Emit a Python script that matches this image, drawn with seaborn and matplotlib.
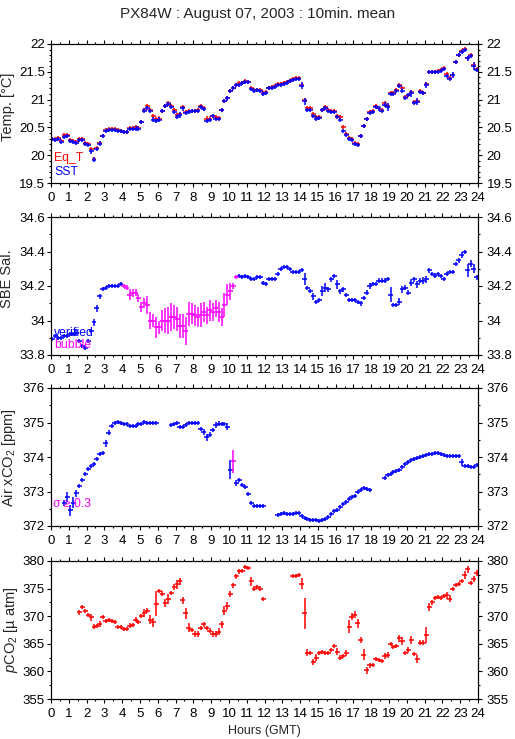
import numpy as np
import matplotlib
matplotlib.use("Agg")
import matplotlib.pyplot as plt
import seaborn as sns
from matplotlib.ticker import MultipleLocator, FuncFormatter

nan = np.nan

# ---------------- data (10-min means, 144 slots, 00:00-24:00 GMT) ----------------
SLOT_MINUTES = 10

sst = [
    20.29, 20.28, 20.30, 20.24, 20.33, 20.34, 20.25, 20.24, 20.22, 20.27, 20.27, 20.21,
    20.18, 20.07, 19.92, 20.12, 20.21, 20.34, 20.44, 20.45, 20.46, 20.45, 20.44, 20.43,
    20.41, 20.41, 20.47, 20.47, 20.48, 20.48, 20.59, 20.80, 20.85, 20.79, 20.64, 20.62,
    20.64, 20.79, 20.88, 20.92, 20.86, 20.78, 20.69, 20.72, 20.84, 20.76, 20.77, 20.79,
    20.79, 20.80, 20.86, 20.83, 20.62, 20.64, 20.70, 20.65, 20.65, 20.81, 20.97, 21.02,
    21.15, 21.20, 21.26, 21.27, 21.29, 21.31, 21.31, 21.19, 21.16, 21.17, 21.16, 21.10,
    21.12, 21.20, 21.21, 21.23, 21.27, 21.27, 21.28, 21.30, 21.33, 21.36, 21.37, 21.37,
    21.25, 20.97, 20.82, 20.82, 20.71, 20.66, 20.67, 20.81, 20.85, 20.80, 20.77, 20.78,
    20.69, 20.63, 20.44, 20.36, 20.30, 20.27, 20.21, 20.19, 20.35, 20.53, 20.65, 20.76,
    20.78, 20.87, 20.84, 20.80, 20.91, 20.87, 21.10, 21.10, 21.16, 21.25, 21.16, 21.03,
    21.08, 21.11, 20.94, 20.96, 21.14, 21.11, 21.26, 21.49, 21.49, 21.49, 21.50, 21.52,
    21.55, 21.42, 21.37, 21.44, 21.67, 21.81, 21.86, 21.90, 21.74, 21.79, 21.60, 21.54,
]
sst_sd = [
    .01, .01, .01, .03, .04, .02, .01, .01, .01, .02, .01, .01,
    .02, .04, .04, .01, .04, .02, .01, .01, .01, .01, .01, .01,
    .01, .01, .01, .02, .02, .02, .03, .04, .02, .02, .04, .02,
    .05, .01, .02, .01, .02, .02, .04, .05, .02, .02, .02, .01,
    .02, .01, .02, .03, .02, .02, .01, .03, .03, .04, .03, .03,
    .02, .01, .01, .01, .01, .01, .02, .01, .01, .01, .01, .01,
    .02, .01, .01, .01, .01, .01, .01, .01, .01, .01, .01, .01,
    .06, .06, .02, .01, .04, .02, .02, .04, .01, .02, .02, .01,
    .02, .02, .03, .02, .01, .01, .02, .02, .03, .03, .03, .02,
    .03, .01, .02, .02, .05, .07, .01, .01, .01, .02, .04, .04,
    .03, .07, .03, .06, .02, .03, .06, .01, .01, .01, .01, .01,
    .01, .04, .01, .05, .02, .02, .02, .03, .04, .03, .07, .02,
]
eq_t = [
    20.30, 20.29, 20.31, 20.26, 20.36, 20.36, 20.27, 20.25, 20.23, 20.29, 20.29, 20.22,
    20.20, 20.12, 19.93, 20.13, 20.22, 20.35, 20.45, 20.47, 20.47, 20.47, 20.46, 20.44,
    20.42, 20.42, 20.49, 20.49, 20.51, 20.49, 20.60, 20.81, 20.89, 20.81, 20.70, 20.65,
    20.66, 20.80, 20.89, 20.93, 20.88, 20.81, 20.72, 20.74, 20.86, 20.78, 20.79, 20.80,
    20.80, 20.81, 20.88, 20.84, 20.66, 20.66, 20.71, 20.68, 20.67, 20.82, 20.98, 21.03,
    21.16, 21.21, 21.27, 21.29, 21.30, 21.34, 21.32, 21.20, 21.17, 21.18, 21.17, 21.11,
    21.13, 21.21, 21.22, 21.24, 21.28, 21.28, 21.29, 21.31, 21.34, 21.37, 21.38, 21.38,
    21.27, 21.00, 20.84, 20.84, 20.74, 20.68, 20.69, 20.82, 20.86, 20.82, 20.79, 20.79,
    20.71, 20.68, 20.50, 20.38, 20.31, 20.29, 20.22, 20.20, 20.35, 20.53, 20.65, 20.77,
    20.79, 20.88, 20.85, 20.82, 20.93, 20.89, 21.11, 21.11, 21.17, 21.27, 21.20, 21.05,
    21.09, 21.13, 20.95, 20.97, 21.15, 21.12, 21.28, 21.50, 21.50, 21.50, 21.51, 21.53,
    21.56, 21.46, 21.38, 21.45, 21.68, 21.80, 21.87, 21.91, 21.75, 21.80, 21.62, 21.55,
]
eq_t_sd = 0.008

salinity = [
    33.89, 33.91, 33.90, 33.90, 33.91, 33.91, 33.92, 33.92, 33.93, 33.88, 33.85, 33.84,
    33.88, 33.94, 33.99, 34.07, 34.14, 34.18, 34.19, 34.20, 34.20, 34.20, 34.20, 34.21,
    34.20, 34.19, 34.15, 34.16, 34.16, 34.13, 34.08, 34.10, 34.09, 34.00, 34.00, 33.96,
    33.96, 34.00, 34.00, 34.00, 34.02, 34.02, 34.01, 33.97, 33.97, 33.94, 34.04, 34.04,
    34.03, 34.02, 34.03, 34.05, 34.03, 34.06, 34.05, 34.07, 34.05, 34.02, 34.09, 34.15,
    34.17, 34.20, 34.25, 34.26, 34.25, 34.26, 34.25, 34.24, 34.24, 34.25, 34.25, 34.22,
    34.21, 34.24, 34.24, 34.24, 34.27, 34.30, 34.31, 34.31, 34.30, 34.28, 34.28, 34.28,
    34.29, 34.24, 34.19, 34.17, 34.14, 34.11, 34.12, 34.17, 34.19, 34.18, 34.24, 34.26,
    34.21, 34.17, 34.18, 34.15, 34.12, 34.12, 34.12, 34.11, 34.10, 34.13, 34.16, 34.20,
    34.21, 34.21, 34.23, 34.23, 34.23, 34.24, 34.15, 34.09, 34.09, 34.11, 34.18, 34.19,
    34.16, 34.22, 34.24, 34.21, 34.23, 34.23, 34.24, 34.29, 34.27, 34.26, 34.27, 34.26,
    34.24, 34.27, 34.28, 34.28, 34.33, 34.35, 34.38, 34.40, 34.29, 34.33, 34.30, 34.25,
]
salinity_sd = [
    .008, .008, .008, .008, .008, .008, .008, .010, .020, .010, .010, .010,
    .010, .010, .020, .020, .015, .010, .010, .010, .010, .010, .010, .010,
    .010, .015, .030, .025, .020, .025, .030, .030, .050, .050, .040, .060,
    .040, .060, .070, .080, .080, .070, .070, .070, .070, .080, .070, .060,
    .060, .060, .070, .060, .050, .060, .050, .050, .060, .050, .070, .060,
    .050, .020, .010, .010, .008, .008, .010, .008, .008, .008, .008, .010,
    .010, .008, .008, .008, .010, .010, .008, .008, .008, .008, .008, .008,
    .010, .035, .010, .010, .020, .008, .010, .030, .025, .015, .015, .010,
    .025, .015, .015, .010, .010, .008, .008, .010, .015, .010, .015, .015,
    .010, .010, .015, .015, .015, .010, .045, .008, .010, .020, .020, .015,
    .015, .020, .015, .020, .015, .020, .020, .015, .010, .008, .008, .010,
    .010, .010, .010, .010, .010, .015, .015, .010, .040, .020, .025, .015,
]
bubble_hours = (4.0, 10.5)   # period flagged "bubble"

air_xco2 = [
    nan, nan, nan, nan, 372.66, 372.85, 372.45, 372.68, 372.95, 373.16, 373.34, 373.51,
    373.65, 373.74, 373.80, 373.95, 374.09, 374.13, 374.40, 374.71, 374.91, 375.00, 375.01, 375.00,
    374.96, 374.96, 374.91, 374.89, 374.91, 374.95, 374.97, 375.01, 375.00, 375.00, 374.98, 374.98,
    nan, nan, nan, nan, 374.92, 374.96, 374.98, 374.88, 374.88, 374.92, 374.98, 374.98,
    375.00, 374.98, 374.82, 374.72, 374.57, 374.65, 374.78, 374.93, 374.97, 374.95, 374.95, 374.88,
    373.63, 373.88, 373.25, 373.33, 373.20, 373.12, 372.93, 372.68, 372.58, 372.58, 372.58, 372.58,
    nan, nan, nan, nan, 372.32, 372.36, 372.39, 372.36, 372.35, 372.36, 372.37, 372.37,
    372.30, 372.22, 372.20, 372.18, 372.17, 372.16, 372.15, 372.17, 372.21, 372.25, 372.34, 372.43,
    372.47, 372.55, 372.63, 372.70, 372.78, 372.84, 372.88, 372.98, 373.05, 373.10, 373.07, 373.05,
    nan, nan, nan, nan, 373.40, 373.47, 373.52, 373.57, 373.60, 373.63, 373.72, 373.80,
    373.85, 373.90, 373.93, 373.98, 374.00, 374.02, 374.06, 374.08, 374.10, 374.11, 374.12, 374.10,
    374.06, 374.04, 374.02, 374.03, 374.03, 374.03, 373.85, 373.74, 373.73, 373.72, 373.72, 373.77,
]
air_xco2_sd = [
    nan, nan, nan, nan, .08, .15, .15, .15, .10, .05, .05, .05,
    .04, .04, .04, .06, .04, .04, .10, .08, .05, .04, .04, .04,
    .04, .04, .04, .04, .04, .04, .03, .03, .03, .03, .03, .03,
    nan, nan, nan, nan, .04, .06, .04, .06, .05, .04, .04, .04,
    .04, .06, .06, .08, .10, .08, .06, .08, .06, .04, .04, .10,
    .27, .33, .08, .06, .04, .04, .06, .05, .03, .03, .03, .06,
    nan, nan, nan, nan, .03, .03, .03, .03, .03, .03, .03, .03,
    .04, .03, .03, .03, .03, .03, .03, .03, .03, .03, .04, .04,
    .04, .04, .04, .04, .04, .04, .03, .04, .03, .03, .03, .03,
    nan, nan, nan, nan, .05, .04, .03, .03, .03, .03, .03, .03,
    .03, .03, .03, .03, .03, .03, .03, .03, .03, .04, .03, .03,
    .03, .03, .03, .03, .03, .03, .10, .04, .03, .03, .03, .04,
]
sigma_limit = 0.3

pco2 = [
    nan, nan, nan, nan, nan, nan, nan, nan, nan, 370.7, 371.6, 370.9,
    370.2, 369.8, 368.1, 368.2, 368.6, 369.9, 369.2, 369.3, 369.1, 368.9, 368.1, 368.0,
    367.6, 367.6, 368.3, 368.4, 369.4, 369.0, 370.0, 370.6, 371.0, 369.4, 368.9, 372.3,
    374.6, 374.1, 372.4, 373.1, 374.2, 375.3, 375.8, 376.3, 372.9, 370.5, 367.9, 367.5,
    366.8, 366.8, 367.9, 368.5, 367.9, 367.4, 366.8, 366.8, 367.2, 368.5, 371.0, 371.8,
    374.0, 375.6, 377.2, 378.1, 378.2, 378.9, 378.7, 376.3, 375.0, 375.3, 375.0, 373.1,
    nan, nan, nan, nan, nan, nan, nan, nan, nan, 377.2, 377.3, 377.5,
    375.9, 370.5, 363.4, 363.3, 361.7, 362.5, 363.4, 363.6, 363.4, 363.3, 363.9, 364.6,
    363.6, 362.5, 362.8, 363.3, 368.1, 369.9, 370.3, 368.7, 365.7, 363.0, 360.2, 361.1,
    361.1, 362.3, 362.0, 361.9, 362.8, 363.0, 364.9, 364.5, 364.6, 366.0, 365.5, 363.4,
    363.9, 365.7, 363.1, 362.2, 365.2, 365.2, 366.6, 371.7, 372.5, 373.3, 373.5, 373.3,
    373.7, 373.8, 373.2, 374.9, 375.7, 375.9, 376.3, 377.4, 378.5, 376.0, 376.7, 377.8,
]
pco2_sd = [
    nan, nan, nan, nan, nan, nan, nan, nan, nan, .5, .3, .4,
    .3, .6, .5, .3, .5, .3, .3, .3, .3, .3, .3, .3,
    .3, .3, .5, .3, .4, .3, .4, .7, .4, .8, .8, 2.2,
    .4, .4, .7, .9, .4, .5, .8, .6, .6, 1.0, .8, .4,
    .6, .5, .4, .4, .4, .5, .6, .5, .6, .6, .8, .7,
    .6, .5, .5, .4, .4, .3, .3, .8, .4, .4, .5, .3,
    nan, nan, nan, nan, nan, nan, nan, nan, nan, .2, .2, .2,
    1.0, 2.8, .7, .4, .6, .6, .3, .3, .3, .3, .3, .4,
    .6, .5, .4, .6, 1.2, .6, .7, .8, .6, 1.0, .6, .4,
    .3, .3, .3, .3, .6, .6, .3, .3, .3, .6, .7, .3,
    .5, .8, .3, .7, .5, .5, 1.5, .7, .4, .3, .3, .3,
    .3, .6, .6, .3, .3, .3, .3, .7, .6, .4, .5, .5,
]

TITLE = "PX84W : August 07, 2003 : 10min. mean"
XLABEL = "Hours (GMT)"

# ---------------- style ----------------
BLUE, RED, MAGENTA = "#0000ff", "#ff0000", "#ff00ff"
sns.set_theme(style="ticks")
plt.rcParams.update({
    "font.family": ["Liberation Sans", "DejaVu Sans"],
    "mathtext.fontset": "custom",
    "mathtext.rm": "Liberation Sans",
    "mathtext.it": "Liberation Sans:italic",
    "axes.linewidth": 0.8,
    "axes.edgecolor": "black",
    "xtick.color": "black", "ytick.color": "black",
    "xtick.major.size": 3.2, "ytick.major.size": 3.2,
    "xtick.minor.size": 1.7, "ytick.minor.size": 1.7,
    "xtick.major.width": 0.8, "ytick.major.width": 0.8,
    "xtick.minor.width": 0.8, "ytick.minor.width": 0.8,
    "axes.facecolor": "white", "figure.facecolor": "white",
})
TICK_SIZE = 9.5

W, H = 515, 739
PANEL_H = 138
fig = plt.figure(figsize=(W / 100, H / 100), dpi=100)

hours = (np.arange(len(sst)) + 0.5) * SLOT_MINUTES / 60.0
HALF_ARM_H = 0.14          # horizontal arm of each cross (hours)
MIN_ARM_PX = 2.0           # smallest vertical arm drawn (pixels)
LW = 1.1
fmt = FuncFormatter(lambda v, p: f"{v:g}")


def make_panel(top, bottom, ylim, major, minor):
    ax = fig.add_axes([51 / W, 1 - bottom / H, 427 / W, (bottom - top) / H])
    ax.set_xlim(0, 24)
    ax.set_ylim(*ylim)
    ax.xaxis.set_major_locator(MultipleLocator(1))
    ax.xaxis.set_minor_locator(MultipleLocator(0.5))
    ax.yaxis.set_major_locator(MultipleLocator(major))
    ax.yaxis.set_minor_locator(MultipleLocator(minor))
    ax.yaxis.set_major_formatter(fmt)
    ax.tick_params(which="both", direction="out", top=True, right=False,
                   labeltop=False, labelright=False)
    ax.tick_params(axis="x", pad=3.5, labelsize=TICK_SIZE)
    ax.tick_params(axis="y", pad=1.2, labelsize=TICK_SIZE)
    ax2 = ax.twinx()
    ax2.set_ylim(*ylim)
    ax2.yaxis.set_major_locator(MultipleLocator(major))
    ax2.yaxis.set_minor_locator(MultipleLocator(minor))
    ax2.yaxis.set_major_formatter(fmt)
    ax2.tick_params(which="both", direction="out", pad=3, labelsize=TICK_SIZE)
    for a in (ax, ax2):
        for s in a.spines.values():
            s.set_visible(True)
            s.set_color("black")
        a.grid(False)
    return ax


def crosses(ax, x, y, sd, color):
    lo, hi = ax.get_ylim()
    min_arm = MIN_ARM_PX * (hi - lo) / PANEL_H
    yerr = np.maximum(np.asarray(sd, dtype=float), min_arm)
    ax.errorbar(x, y, xerr=HALF_ARM_H, yerr=yerr, fmt="none", ecolor=color,
                elinewidth=LW, capsize=0)


def side_label(text, xpx, ypx, size=10.5):
    fig.text(xpx / W, 1 - ypx / H, text, rotation=90, ha="center", va="center",
             fontsize=size)


LEG = 8.8

# Panel 1: temperatures
ax1 = make_panel(44, 183, (19.5, 22), 0.5, 0.1)
crosses(ax1, hours, np.array(eq_t), np.full(len(eq_t), eq_t_sd), RED)
crosses(ax1, hours, np.array(sst), np.array(sst_sd), BLUE)
ax1.text(0.007, 0.18, "Eq_T", color=RED, transform=ax1.transAxes, fontsize=LEG, va="center")
ax1.text(0.007, 0.079, "SST", color=BLUE, transform=ax1.transAxes, fontsize=LEG, va="center")
side_label("Temp. [°C]", 8.5, 107)

# Panel 2: salinity
ax2 = make_panel(217, 355, (33.8, 34.6), 0.2, 0.1)
sal = np.array(salinity)
sal_sd = np.array(salinity_sd)
is_bubble = (hours > bubble_hours[0]) & (hours < bubble_hours[1])
crosses(ax2, hours[~is_bubble], sal[~is_bubble], sal_sd[~is_bubble], BLUE)
crosses(ax2, hours[is_bubble], sal[is_bubble], sal_sd[is_bubble], MAGENTA)
ax2.text(0.007, 0.16, "verified", color=BLUE, transform=ax2.transAxes, fontsize=LEG, va="center")
ax2.text(0.007, 0.072, "bubble", color=MAGENTA, transform=ax2.transAxes, fontsize=LEG, va="center")
side_label("SBE Sal.", 7.5, 279)

# Panel 3: air xCO2
ax3 = make_panel(388, 526, (372, 376), 1, 0.5)
air = np.array(air_xco2)
air_sd = np.array(air_xco2_sd)
high = air_sd >= sigma_limit
crosses(ax3, hours[~high], air[~high], air_sd[~high], BLUE)
crosses(ax3, hours[high], air[high], air_sd[high], MAGENTA)
ax3.text(0.005, 0.16, "σ ≥ 0.3", color=MAGENTA, transform=ax3.transAxes, fontsize=LEG, va="center")
side_label("Air xCO$_2$ [ppm]", 9.5, 458)

# Panel 4: pCO2
ax4 = make_panel(561, 699, (355, 380), 5, 2.5)
crosses(ax4, hours, np.array(pco2), np.array(pco2_sd), RED)
side_label("$p$CO$_2$ [µ atm]", 11.5, 630)

fig.text(0.5, 1 - 14 / H, TITLE, ha="center", va="center", fontsize=11)
fig.text(264.5 / W, 1 - 731 / H, XLABEL, ha="center", va="center", fontsize=9)

fig.savefig("out.png", dpi=100)
